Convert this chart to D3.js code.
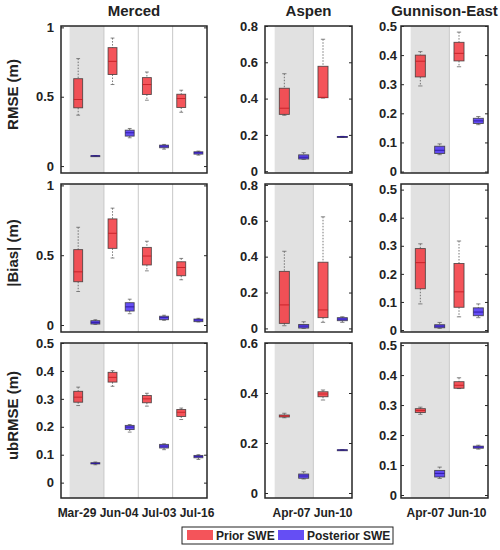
<!DOCTYPE html>
<html>
<head>
<meta charset="utf-8">
<script src="https://cdn.jsdelivr.net/npm/d3@7"></script>
<style>
  body { margin: 0; background: #fff; }
  text { font-family: "Liberation Sans", Arial, sans-serif; font-weight: bold; fill: #222; }
</style>
</head>
<body>
<svg id="chart" width="500" height="550"></svg>
<script>
// sites, metrics and dates
const sites = ["Merced", "Aspen", "Gunnison-East"];
const metrics = ["RMSE (m)", "|Bias| (m)", "ubRMSE (m)"];
const mercedDates = ["Mar-29", "Jun-04", "Jul-03", "Jul-16"];
const coloradoDates = ["Apr-07", "Jun-10"];
const seriesNames = ["Prior SWE", "Posterior SWE"];

// tick values
const ticksHalf = [0, 0.5, 1];
const ticksTenth = [0, 0.1, 0.2, 0.3, 0.4, 0.5];
const ticksFifth8 = [0, 0.2, 0.4, 0.6, 0.8];
const ticksFifth6 = [0, 0.2, 0.4, 0.6];

// box stats per date: [min, q1, median, q3, max]
const mercedRmsePrior = [[0.367, 0.42, 0.48, 0.63, 0.775], [0.588, 0.66, 0.755, 0.854, 0.923], [0.475, 0.516, 0.588, 0.638, 0.678], [0.388, 0.422, 0.487, 0.518, 0.547]];
const mercedRmsePost = [[0.072, 0.073, 0.074, 0.075, 0.076], [0.204, 0.216, 0.24, 0.259, 0.271], [0.122, 0.132, 0.144, 0.151, 0.156], [0.079, 0.086, 0.096, 0.103, 0.108]];
const mercedBiasPrior = [[0.24, 0.31, 0.381, 0.54, 0.70], [0.48, 0.549, 0.657, 0.76, 0.837], [0.388, 0.43, 0.494, 0.556, 0.60], [0.324, 0.353, 0.412, 0.453, 0.477]];
const mercedBiasPost = [[0.005, 0.007, 0.019, 0.031, 0.038], [0.081, 0.10, 0.13, 0.16, 0.185], [0.034, 0.038, 0.053, 0.063, 0.07], [0.022, 0.024, 0.036, 0.043, 0.048]];
const mercedUbPrior = [[0.276, 0.288, 0.306, 0.327, 0.342], [0.345, 0.36, 0.377, 0.395, 0.401], [0.274, 0.286, 0.30, 0.312, 0.32], [0.226, 0.237, 0.252, 0.262, 0.267]];
const mercedUbPost = [[0.064, 0.067, 0.069, 0.0714, 0.074], [0.181, 0.19, 0.199, 0.205, 0.208], [0.118, 0.124, 0.131, 0.137, 0.139], [0.083, 0.089, 0.094, 0.0975, 0.10]];

const aspenRmsePrior = [[0.308, 0.313, 0.347, 0.457, 0.537], [0.403, 0.405, 0.407, 0.578, 0.727]];
const aspenRmsePost = [[0.065, 0.067, 0.077, 0.09, 0.102], [0.186, 0.188, 0.19, 0.191, 0.192]];
const aspenBiasPrior = [[0.015, 0.028, 0.131, 0.318, 0.43], [0.034, 0.06, 0.103, 0.369, 0.622]];
const aspenBiasPost = [[0.0, 0.002, 0.013, 0.022, 0.037], [0.034, 0.043, 0.052, 0.06, 0.065]];
const aspenUbPrior = [[0.301, 0.304, 0.308, 0.312, 0.319], [0.372, 0.385, 0.396, 0.405, 0.412]];
const aspenUbPost = [[0.056, 0.059, 0.068, 0.076, 0.085], [0.170, 0.171, 0.172, 0.173, 0.174]];

const gunnRmsePrior = [[0.294, 0.325, 0.379, 0.40, 0.412], [0.36, 0.38, 0.406, 0.444, 0.479]];
const gunnRmsePost = [[0.058, 0.062, 0.073, 0.087, 0.095], [0.161, 0.165, 0.174, 0.183, 0.189]];
const gunnBiasPrior = [[0.093, 0.147, 0.24, 0.29, 0.307], [0.047, 0.081, 0.136, 0.237, 0.317]];
const gunnBiasPost = [[0.006, 0.008, 0.014, 0.019, 0.027], [0.044, 0.051, 0.064, 0.079, 0.093]];
const gunnUbPrior = [[0.269, 0.275, 0.282, 0.288, 0.293], [0.355, 0.356, 0.366, 0.378, 0.391]];
const gunnUbPost = [[0.055, 0.06, 0.072, 0.082, 0.093], [0.153, 0.156, 0.16, 0.163, 0.166]];

// layout
const cols = [
  { x0: 61, x1: 207, pad: 7, dates: mercedDates },
  { x0: 265, x1: 352, pad: 7, dates: coloradoDates },
  { x0: 401, x1: 488, pad: 4, dates: coloradoDates }
];
const rows = [
  { y0: 26, y1: 173 },
  { y0: 184, y1: 332 },
  { y0: 343, y1: 498 }
];

const panels = [
  { r: 0, c: 0, prior: mercedRmsePrior, post: mercedRmsePost, dom: [-0.05, 1.01], ticks: ticksHalf },
  { r: 1, c: 0, prior: mercedBiasPrior, post: mercedBiasPost, dom: [-0.05, 1.01], ticks: ticksHalf },
  { r: 2, c: 0, prior: mercedUbPrior, post: mercedUbPost, dom: [-0.055, 0.5], ticks: ticksTenth },
  { r: 0, c: 1, prior: aspenRmsePrior, post: aspenRmsePost, dom: [-0.01, 0.8], ticks: ticksFifth8 },
  { r: 1, c: 1, prior: aspenBiasPrior, post: aspenBiasPost, dom: [-0.02, 0.805], ticks: ticksFifth8 },
  { r: 2, c: 1, prior: aspenUbPrior, post: aspenUbPost, dom: [-0.02, 0.6], ticks: ticksFifth6 },
  { r: 0, c: 2, prior: gunnRmsePrior, post: gunnRmsePost, dom: [-0.005, 0.5], ticks: ticksTenth },
  { r: 1, c: 2, prior: gunnBiasPrior, post: gunnBiasPost, dom: [-0.007, 0.52], ticks: ticksTenth },
  { r: 2, c: 2, prior: gunnUbPrior, post: gunnUbPost, dom: [-0.01, 0.507], ticks: ticksTenth }
];

const styles = [
  { off: -0.25, fill: "#f2363d", med: "#c41f26" },
  { off: 0.25, fill: "#4a2ff2", med: "#2a14a0" }
];

const svg = d3.select("#chart");
const fmt = d3.format("~g");

panels.forEach(drawPanel);

function drawPanel(p) {
  const c = cols[p.c], r = rows[p.r];
  const n = c.dates.length;
  const x = d3.scaleLinear().domain([0.25, n + 0.5]).range([c.x0, c.x1]);
  const y = d3.scaleLinear().domain(p.dom).range([r.y1, r.y0]);
  const g = svg.append("g");

  // first date shaded
  g.append("rect")
    .attr("x", x(0.5)).attr("y", r.y0)
    .attr("width", x(1.5) - x(0.5)).attr("height", r.y1 - r.y0)
    .attr("fill", "#e1e1e1");

  g.selectAll("line.sep")
    .data(d3.range(1.5, n, 1))
    .join("line")
    .attr("class", "sep")
    .attr("x1", d => x(d)).attr("x2", d => x(d))
    .attr("y1", r.y0).attr("y2", r.y1)
    .attr("stroke", "#c8c8c8").attr("stroke-width", 1);

  const bw = 0.26, cw = 0.11;
  [p.prior, p.post].forEach((vals, si) => {
    const st = styles[si];
    const b = g.append("g").selectAll("g")
      .data(vals)
      .join("g");
    const cx = (d, i) => x(i + 1 + st.off);

    // whiskers
    b.append("line")
      .attr("x1", cx).attr("x2", cx)
      .attr("y1", d => y(d[4])).attr("y2", d => y(d[3]))
      .attr("stroke", "#555").attr("stroke-width", 0.8).attr("stroke-dasharray", "1.5,1.5");
    b.append("line")
      .attr("x1", cx).attr("x2", cx)
      .attr("y1", d => y(d[1])).attr("y2", d => y(d[0]))
      .attr("stroke", "#555").attr("stroke-width", 0.8).attr("stroke-dasharray", "1.5,1.5");
    [0, 4].forEach(k => {
      b.append("line")
        .attr("x1", (d, i) => cx(d, i) - (x(cw) - x(0)) / 2)
        .attr("x2", (d, i) => cx(d, i) + (x(cw) - x(0)) / 2)
        .attr("y1", d => y(d[k])).attr("y2", d => y(d[k]))
        .attr("stroke", "#666").attr("stroke-width", 0.8);
    });

    b.append("rect")
      .attr("x", (d, i) => cx(d, i) - (x(bw) - x(0)) / 2)
      .attr("width", x(bw) - x(0))
      .attr("y", d => y(d[3]))
      .attr("height", d => Math.max(1, y(d[1]) - y(d[3])))
      .attr("fill", st.fill).attr("fill-opacity", 0.85)
      .attr("stroke", "#333").attr("stroke-opacity", 0.8).attr("stroke-width", 0.9);

    b.append("line")
      .attr("x1", (d, i) => cx(d, i) - (x(bw) - x(0)) / 2)
      .attr("x2", (d, i) => cx(d, i) + (x(bw) - x(0)) / 2)
      .attr("y1", d => y(d[2])).attr("y2", d => y(d[2]))
      .attr("stroke", st.med).attr("stroke-width", 0.9);
  });

  // axes with inward ticks
  const left = g.append("g")
    .attr("transform", `translate(${c.x0},0)`)
    .call(d3.axisLeft(y).tickValues(p.ticks).tickFormat(fmt).tickSizeInner(-3).tickSizeOuter(0).tickPadding(c.pad));
  const right = g.append("g")
    .attr("transform", `translate(${c.x1},0)`)
    .call(d3.axisRight(y).tickValues(p.ticks).tickFormat("").tickSizeInner(-3).tickSizeOuter(0));
  [left, right].forEach(a => {
    a.attr("font-family", null).attr("font-size", null).attr("color", "#262626");
    a.select(".domain").remove();
  });
  left.selectAll("text").style("font-size", "13px");

  g.append("rect")
    .attr("x", c.x0).attr("y", r.y0)
    .attr("width", c.x1 - c.x0).attr("height", r.y1 - r.y0)
    .attr("fill", "none").attr("stroke", "#262626").attr("stroke-width", 1.5);

  if (p.r === 0) {
    svg.append("text")
      .attr("x", (c.x0 + c.x1) / 2).attr("y", 16)
      .attr("text-anchor", "middle").style("font-size", "15px")
      .text(sites[p.c]);
  }
  if (p.c === 0) {
    const cy = (r.y0 + r.y1) / 2 - 5;
    svg.append("text")
      .attr("transform", `translate(18,${cy}) rotate(-90)`)
      .attr("text-anchor", "middle").style("font-size", "15px")
      .text(metrics[p.r]);
  }
  if (p.r === 2) {
    svg.append("text")
      .attr("x", (c.x0 + c.x1) / 2 + (p.c === 1 ? 4 : 2)).attr("y", 517)
      .attr("text-anchor", "middle").style("font-size", "12px")
      .text(c.dates.join(" "));
  }
}

// legend
const leg = svg.append("g");
leg.append("rect")
  .attr("x", 182).attr("y", 527).attr("width", 211).attr("height", 17)
  .attr("fill", "#fff").attr("stroke", "#222").attr("stroke-width", 1);
const legX = [187, 278];
seriesNames.forEach((name, i) => {
  leg.append("rect")
    .attr("x", legX[i]).attr("y", 530).attr("width", 26).attr("height", 10)
    .attr("fill", styles[i].fill).attr("fill-opacity", 0.85);
  leg.append("text")
    .attr("x", legX[i] + 29).attr("y", 540)
    .style("font-size", "12px")
    .text(name);
});
</script>
</body>
</html>
